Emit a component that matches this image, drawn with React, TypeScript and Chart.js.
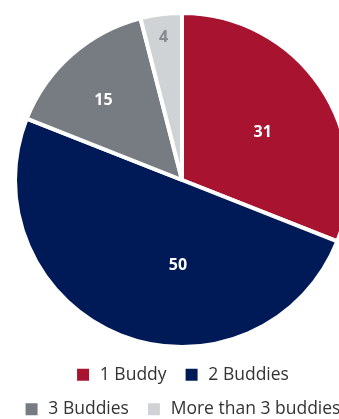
import React, { useEffect, useRef } from "react";
import { Chart, registerables } from "chart.js";

Chart.register(...registerables);

const categories = ["1 Buddy", "2 Buddies", "3 Buddies", "More than 3 buddies"];
const values = [31, 50, 15, 4];
const colors = ["#a8132f", "#001a57", "#777b82", "#d0d3d6"];
const labelColors = ["#ffffff", "#ffffff", "#ffffff", "#868a90"];
// label placement inside each slice: [fraction along the slice's angle, fraction of radius]
const labelPlacement = [
  [0.534, 0.56],
  [0.395, 0.51],
  [0.44, 0.67],
  [0.49, 0.86],
];

const sliceLabels = {
  id: "sliceLabels",
  afterDatasetsDraw(chart: any) {
    const ctx = chart.ctx;
    const meta = chart.getDatasetMeta(0);
    ctx.save();
    ctx.font = "bold 16px 'Open Sans'";
    ctx.textAlign = "center";
    ctx.textBaseline = "middle";
    meta.data.forEach((arc: any, i: number) => {
      const p = arc.getProps(["x", "y", "startAngle", "endAngle", "outerRadius"], true);
      const [af, rf] = labelPlacement[i];
      const a = p.startAngle + (p.endAngle - p.startAngle) * af;
      const r = p.outerRadius * rf;
      ctx.fillStyle = labelColors[i];
      ctx.fillText(String(values[i]), p.x + Math.cos(a) * r, p.y + Math.sin(a) * r);
    });
    ctx.restore();
  },
};

export default function App() {
  const ref = useRef<HTMLCanvasElement>(null);
  useEffect(() => {
    const chart = new Chart(ref.current!, {
      type: "pie",
      data: {
        labels: categories,
        datasets: [
          {
            data: values,
            backgroundColor: colors,
            borderColor: "#ffffff",
            borderWidth: 4,
          },
        ],
      },
      options: {
        animation: false,
        responsive: true,
        maintainAspectRatio: false,
        layout: { padding: { top: 11, bottom: 0, left: 4, right: 4 } },
        plugins: {
          tooltip: { enabled: false },
          legend: {
            position: "bottom",
            labels: {
              boxWidth: 16,
              boxHeight: 16,
              padding: 17,
              color: "#333333",
              font: { family: "'Open Sans'", size: 17.5 },
            },
          },
        },
      },
      plugins: [sliceLabels],
    });
    return () => chart.destroy();
  }, []);
  return (
    <div style={{ position: "fixed", left: 0, top: 0, width: 364, height: 428, background: "#fff" }}>
      <canvas ref={ref} />
    </div>
  );
}
